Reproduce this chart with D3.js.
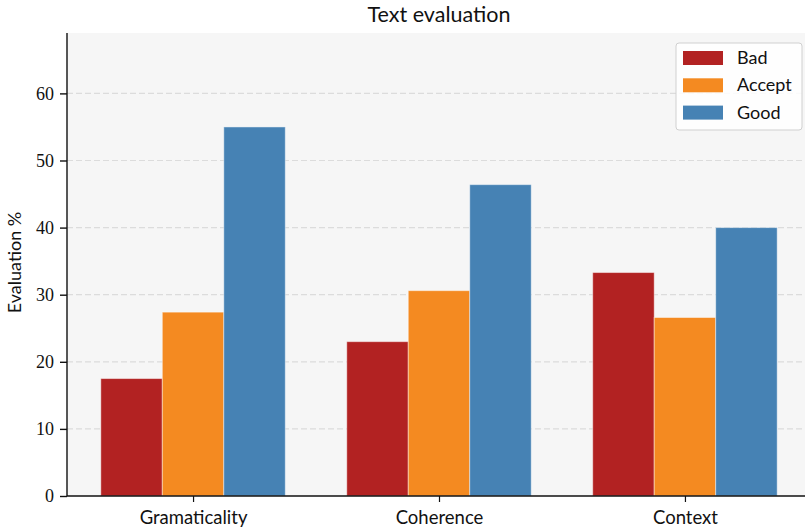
<!DOCTYPE html>
<html>
<head>
<meta charset="utf-8">
<script src="https://cdn.jsdelivr.net/npm/d3@7"></script>
<style>
  body { margin: 0; background: #fff; }
  svg { display: block; }
</style>
</head>
<body>
<div id="chart"></div>
<script>
// chart data
const categories = ["Gramaticality", "Coherence", "Context"]
const seriesNames = ["Bad", "Accept", "Good"]
const badValues = [17.5, 23.0, 33.3]
const acceptValues = [27.4, 30.6, 26.6]
const goodValues = [55.0, 46.4, 40.0]
const yTicks = [0, 10, 20, 30, 40, 50, 60]

const colors = ["#b22222", "#f48a21", "#4682b4"]
const series = [badValues, acceptValues, goodValues]

const width = 805
const height = 531
const margin = {top: 33, right: -6, bottom: 35, left: 67}
const sans = "Lato, 'Open Sans', sans-serif"

const svg = d3.select("#chart")
    .append("svg")
    .attr("width", width)
    .attr("height", height)

// x as a linear scale in "group units" like matplotlib, with bars of width 0.25
const x = d3.scaleLinear()
    .domain([-0.5125, 2.5125])
    .range([margin.left, width - margin.right])

const y = d3.scaleLinear()
    .domain([0, 69])
    .range([height - margin.bottom, margin.top])

const barW = 0.25

// plot background
svg.append("rect")
    .attr("x", x(-0.5125))
    .attr("y", y(69))
    .attr("width", x(2.5125) - x(-0.5125))
    .attr("height", y(0) - y(69))
    .attr("fill", "#f6f6f6")

// dashed grid lines
svg.append("g")
    .selectAll("line")
    .data(yTicks.filter(d => d > 0))
    .join("line")
    .attr("x1", x(-0.5125))
    .attr("x2", x(2.5125))
    .attr("y1", d => y(d))
    .attr("y2", d => y(d))
    .attr("stroke", "#dcdcdc")
    .attr("stroke-width", 1.2)
    .attr("stroke-dasharray", "6,3")

// bars, one group per series
svg.append("g")
    .selectAll("g")
    .data(series)
    .join("g")
    .attr("fill", (d, i) => colors[i])
    .each(function (vals, s) {
        d3.select(this).selectAll("rect")
            .data(vals)
            .join("rect")
            .attr("x", (d, i) => x(i + (s - 1.5) * barW))
            .attr("width", x(barW) - x(0))
            .attr("y", d => y(d))
            .attr("height", d => y(0) - y(d))
            .attr("stroke", "rgba(255,255,255,0.45)")
            .attr("stroke-width", 1)
    })

// y axis
const yAxis = svg.append("g")
    .attr("transform", `translate(${x(-0.5125)},0)`)
    .call(d3.axisLeft(y).tickValues(yTicks).tickSize(7).tickPadding(6))
yAxis.select(".domain").attr("stroke", "#111").attr("stroke-width", 1.4)
    .attr("d", `M0,${y(0)}V${y(69)}`)
yAxis.selectAll(".tick line").attr("stroke", "#111").attr("stroke-width", 1.4)
yAxis.selectAll("text")
    .style("font-family", "'Liberation Serif', 'DejaVu Serif', serif")
    .style("font-size", "18px")
    .attr("fill", "#111")

// x axis
const xAxis = svg.append("g")
    .attr("transform", `translate(0,${y(0)})`)
    .call(d3.axisBottom(x).tickValues([0, 1, 2]).tickFormat(i => categories[i]).tickSize(6).tickPadding(9))
xAxis.select(".domain").attr("stroke", "#111").attr("stroke-width", 1.4)
    .attr("d", `M${x(-0.5125)},0H${x(2.5125)}`)
xAxis.selectAll(".tick line").attr("stroke", "#111").attr("stroke-width", 1.2)
xAxis.selectAll("text")
    .style("font-family", sans)
    .style("font-size", "18.5px")
    .attr("fill", "#111")

// title
svg.append("text")
    .attr("x", 439)
    .attr("y", 22)
    .attr("text-anchor", "middle")
    .style("font-family", sans)
    .style("font-size", "21.5px")
    .attr("fill", "#111")
    .text("Text evaluation")

// y label
svg.append("text")
    .attr("transform", `translate(21,${(y(0) + y(69)) / 2 - 2}) rotate(-90)`)
    .attr("text-anchor", "middle")
    .style("font-family", sans)
    .style("font-size", "18px")
    .attr("fill", "#111")
    .text("Evaluation %")

// legend
const legend = svg.append("g").attr("transform", "translate(676,43)")
legend.append("rect")
    .attr("width", 126)
    .attr("height", 87)
    .attr("rx", 3)
    .attr("fill", "rgba(255,255,255,0.85)")
    .attr("stroke", "#d0d0d0")
    .attr("stroke-width", 1)
const entry = legend.selectAll(".entry")
    .data(seriesNames)
    .join("g")
    .attr("class", "entry")
    .attr("transform", (d, i) => `translate(7,${8 + i * 27.3})`)
entry.append("rect")
    .attr("width", 40)
    .attr("height", 14)
    .attr("fill", (d, i) => colors[i])
entry.append("text")
    .attr("x", 54)
    .attr("y", 13)
    .style("font-family", sans)
    .style("font-size", "18px")
    .attr("fill", "#111")
    .text(d => d)
</script>
</body>
</html>
